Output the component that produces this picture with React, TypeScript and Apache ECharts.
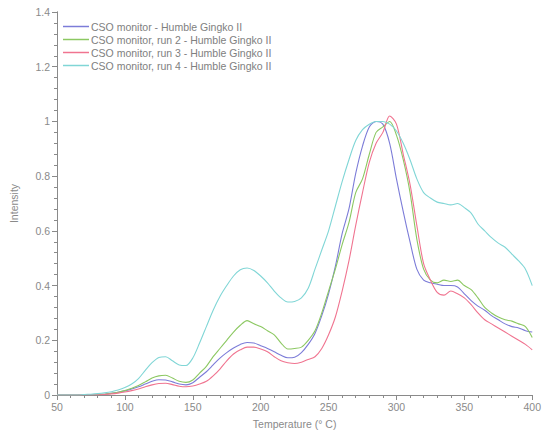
import React, { useEffect, useRef } from "react";
import * as echarts from "echarts";

const temperatures = [50,55,60,65,70,75,80,85,90,95,100,105,110,115,120,125,130,135,140,145,150,155,160,165,170,175,180,185,190,195,200,205,210,215,220,225,230,235,240,245,250,255,260,265,270,275,280,285,290,295,300,305,310,315,320,325,330,335,340,345,350,355,360,365,370,375,380,385,390,395,400];

const run1 = [0,0,0,0,0.001,0.001,0.002,0.003,0.006,0.01,0.015,0.022,0.03,0.04,0.05,0.056,0.055,0.048,0.04,0.037,0.045,0.065,0.085,0.11,0.135,0.155,0.172,0.185,0.192,0.19,0.18,0.17,0.158,0.145,0.136,0.138,0.155,0.185,0.225,0.29,0.37,0.47,0.59,0.68,0.81,0.91,0.98,1.0,0.99,0.92,0.79,0.67,0.56,0.46,0.42,0.41,0.405,0.4,0.4,0.395,0.37,0.345,0.325,0.31,0.29,0.275,0.26,0.25,0.245,0.235,0.23];

const run2 = [0,0,0,0,0.001,0.001,0.002,0.003,0.006,0.01,0.016,0.025,0.035,0.048,0.062,0.07,0.072,0.062,0.05,0.046,0.055,0.08,0.105,0.14,0.17,0.2,0.23,0.255,0.272,0.26,0.25,0.235,0.22,0.19,0.168,0.17,0.175,0.2,0.235,0.3,0.38,0.46,0.55,0.63,0.74,0.79,0.88,0.96,0.98,1.0,0.95,0.86,0.74,0.57,0.46,0.42,0.41,0.42,0.415,0.42,0.4,0.385,0.355,0.32,0.3,0.285,0.275,0.27,0.26,0.25,0.21];

const run3 = [0,0,0,0,0.001,0.001,0.001,0.002,0.004,0.007,0.011,0.016,0.022,0.03,0.037,0.042,0.043,0.038,0.032,0.03,0.033,0.04,0.05,0.07,0.095,0.125,0.15,0.165,0.175,0.175,0.168,0.158,0.14,0.125,0.118,0.115,0.12,0.13,0.14,0.17,0.22,0.285,0.38,0.49,0.62,0.74,0.85,0.92,0.96,1.02,0.99,0.88,0.77,0.62,0.48,0.42,0.375,0.365,0.38,0.37,0.355,0.33,0.3,0.275,0.26,0.245,0.23,0.215,0.2,0.185,0.165];

const run4 = [0,0,0,0,0.002,0.003,0.005,0.008,0.012,0.018,0.027,0.04,0.06,0.09,0.118,0.137,0.14,0.125,0.11,0.108,0.135,0.19,0.25,0.31,0.36,0.4,0.435,0.458,0.464,0.455,0.435,0.41,0.38,0.355,0.34,0.342,0.355,0.39,0.46,0.53,0.6,0.69,0.78,0.86,0.93,0.97,0.99,1.0,1.0,0.99,0.965,0.92,0.86,0.79,0.74,0.72,0.705,0.7,0.695,0.7,0.685,0.665,0.625,0.6,0.575,0.555,0.54,0.515,0.49,0.46,0.4];

const seriesNames = [
  "CSO monitor - Humble Gingko II",
  "CSO monitor, run 2 - Humble Gingko II",
  "CSO monitor, run 3 - Humble Gingko II",
  "CSO monitor, run 4 - Humble Gingko II",
];
const seriesValues = [run1, run2, run3, run4];
const seriesColors = ["#7c7cd8", "#8cc862", "#f07490", "#80d6d6"];

export default function App() {
  const ref = useRef<HTMLDivElement>(null);
  useEffect(() => {
    if (!ref.current) return;
    const chart = echarts.init(ref.current, null, { renderer: "svg" });
    const axisColor = "#8a8a8a";
    const textColor = "#8a8a8a";
    chart.setOption({
      animation: false,
      backgroundColor: "#ffffff",
      textStyle: { fontFamily: "Liberation Sans, Arial, sans-serif" },
      grid: { left: 56, right: 8, top: 12, bottom: 40, containLabel: false },
      legend: {
        orient: "vertical",
        left: 58,
        top: 16,
        itemWidth: 26,
        itemHeight: 1.5,
        itemGap: 2,
        icon: "rect",
        textStyle: { color: "#808080", fontSize: 10.5, padding: [0, 0, 0, -3] },
        data: seriesNames,
      },
      xAxis: [
        {
          type: "value",
          min: 50,
          max: 400,
          interval: 50,
          name: "Temperature (° C)",
          nameLocation: "middle",
          nameGap: 23,
          nameTextStyle: { color: textColor, fontSize: 10.5 },
          axisLine: { lineStyle: { color: axisColor } },
          axisTick: { show: true, length: 5, lineStyle: { color: axisColor } },
          axisLabel: { color: textColor, fontSize: 10.5, margin: 6 },
          splitLine: { show: false },
        },
        {
          type: "value",
          position: "bottom",
          min: 50,
          max: 400,
          interval: 10,
          axisLabel: { show: false },
          axisLine: { show: true, lineStyle: { color: axisColor } },
          axisTick: { show: true, length: 3, lineStyle: { color: axisColor, width: 1 } },
          splitLine: { show: false },
        },
      ],
      yAxis: [
        {
          type: "value",
          min: 0,
          max: 1.4,
          interval: 0.2,
          name: "Intensity",
          nameLocation: "middle",
          nameGap: 38,
          nameTextStyle: { color: textColor, fontSize: 10.5 },
          axisLine: { show: true, lineStyle: { color: axisColor } },
          axisTick: { show: true, length: 5, lineStyle: { color: axisColor } },
          axisLabel: { color: textColor, fontSize: 10.5, margin: 7 },
          splitLine: { show: false },
        },
        {
          type: "value",
          position: "left",
          min: 0,
          max: 1.4,
          interval: 0.04,
          axisLabel: { show: false },
          axisLine: { show: true, lineStyle: { color: axisColor } },
          axisTick: { show: true, length: 3, lineStyle: { color: axisColor, width: 1 } },
          splitLine: { show: false },
        },
      ],
      series: seriesNames.map((name, i) => ({
        name,
        type: "line",
        xAxisIndex: 0,
        yAxisIndex: 0,
        showSymbol: false,
        symbol: "none",
        smooth: 0.3,
        color: seriesColors[i],
        lineStyle: { width: 1.1, color: seriesColors[i] },
        data: temperatures.map((t, j) => [t, seriesValues[i][j]]),
      })),
    });
    return () => chart.dispose();
  }, []);
  return (
    <div
      ref={ref}
      style={{ position: "fixed", left: 0, top: 0, width: 544, height: 435, background: "#fff" }}
    />
  );
}
